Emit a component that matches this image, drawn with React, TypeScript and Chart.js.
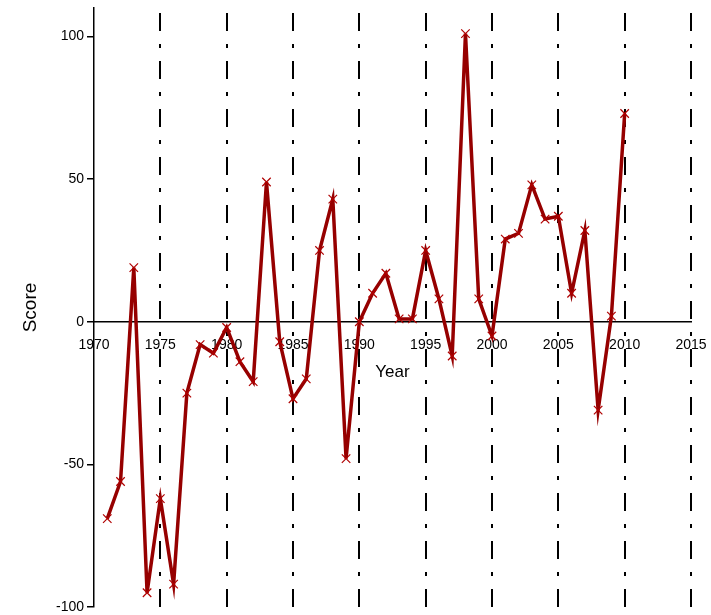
import React, { useEffect, useRef } from "react";
import { Chart, registerables } from "chart.js";

Chart.register(...registerables);

const years = [
  1971, 1972, 1973, 1974, 1975, 1976, 1977, 1978, 1979, 1980,
  1981, 1982, 1983, 1984, 1985, 1986, 1987, 1988, 1989, 1990,
  1991, 1992, 1993, 1994, 1995, 1996, 1997, 1998, 1999, 2000,
  2001, 2002, 2003, 2004, 2005, 2006, 2007, 2008, 2009, 2010,
];
const scores = [
  -69, -56, 19, -95, -62, -92, -25, -8, -11, -2,
  -14, -21, 49, -7, -27, -20, 25, 43, -48, 0,
  10, 17, 1, 1, 25, 8, -12, 101, 8, -5,
  29, 31, 48, 36, 37, 10, 32, -31, 2, 73,
];
const xTicks = [1970, 1975, 1980, 1985, 1990, 1995, 2000, 2005, 2010, 2015];
const yTicks = [-100, -50, 0, 50, 100];
const xTitle = "Year";
const yTitle = "Score";

export default function App() {
  const ref = useRef<HTMLCanvasElement | null>(null);
  useEffect(() => {
    document.body.style.margin = "0";
    const canvas = ref.current;
    if (!canvas) return;
    const chart = new Chart(canvas, {
      type: "line",
      data: {
        datasets: [
          {
            data: years.map((y, i) => ({ x: y, y: scores[i] })),
            borderColor: "#960000",
            borderWidth: 3.5,
            pointStyle: "crossRot",
            pointRadius: 6,
            pointBorderWidth: 1.2,
            pointBorderColor: "#b00000",
            pointBackgroundColor: "#b00000",
            tension: 0,
          },
        ],
      },
      options: {
        responsive: false,
        animation: false,
        font: { family: "'Liberation Sans', Arial, sans-serif" },
        layout: { padding: { left: 0, right: 20, top: 8, bottom: 8 } },
        plugins: { legend: { display: false }, tooltip: { enabled: false } },
        scales: {
          x: {
            type: "linear",
            min: 1970,
            max: 2015,
            position: { y: 0 },
            afterBuildTicks: (s: any) => {
              s.ticks = xTicks.map((v) => ({ value: v }));
            },
            afterFit: (s: any) => {
              s.paddingLeft = 0;
              s.paddingRight = 0;
            },
            grid: {
              display: true,
              drawTicks: false,
              lineWidth: 2,
              color: (c: any) =>
                c.tick && c.tick.value === xTicks[0] ? "rgba(0,0,0,0)" : "#000",
            },
            border: { display: true, color: "#000", width: 1.5, dash: [18, 13, 4, 13], dashOffset: 43 },
            ticks: {
              color: "#000",
              padding: 15,
              maxRotation: 0,
              autoSkip: false,
              font: { size: 14, family: "'Liberation Sans', Arial, sans-serif" },
              callback: (v: any) => String(v),
            },
            title: {
              display: true,
              text: xTitle,
              color: "#000",
              font: { size: 17, family: "'Liberation Sans', Arial, sans-serif" },
              padding: { top: -6, bottom: 0 },
            },
          },
          y: {
            type: "linear",
            min: -100,
            max: 110,
            position: "left",
            afterBuildTicks: (s: any) => {
              s.ticks = yTicks.map((v) => ({ value: v }));
            },
            afterFit: (s: any) => {
              s.width = 94;
              s.paddingTop = 0;
              s.paddingBottom = 0;
            },
            grid: {
              display: true,
              drawOnChartArea: false,
              drawTicks: true,
              tickLength: 7,
              color: "#000",
              lineWidth: 1.5,
            },
            border: { display: true, color: "#000", width: 1.5 },
            ticks: {
              color: "#000",
              padding: 3,
              font: { size: 14, family: "'Liberation Sans', Arial, sans-serif" },
              callback: (v: any) => String(v),
            },
            title: {
              display: true,
              text: yTitle,
              color: "#000",
              font: { size: 19, family: "'Liberation Sans', Arial, sans-serif" },
              padding: { top: 19, bottom: 0 },
            },
          },
        },
      },
    });
    return () => chart.destroy();
  }, []);
  return (
    <div style={{ position: "absolute", left: 0, top: 0, width: 711, height: 615 }}>
      <canvas ref={ref} width={711} height={615} />
    </div>
  );
}
